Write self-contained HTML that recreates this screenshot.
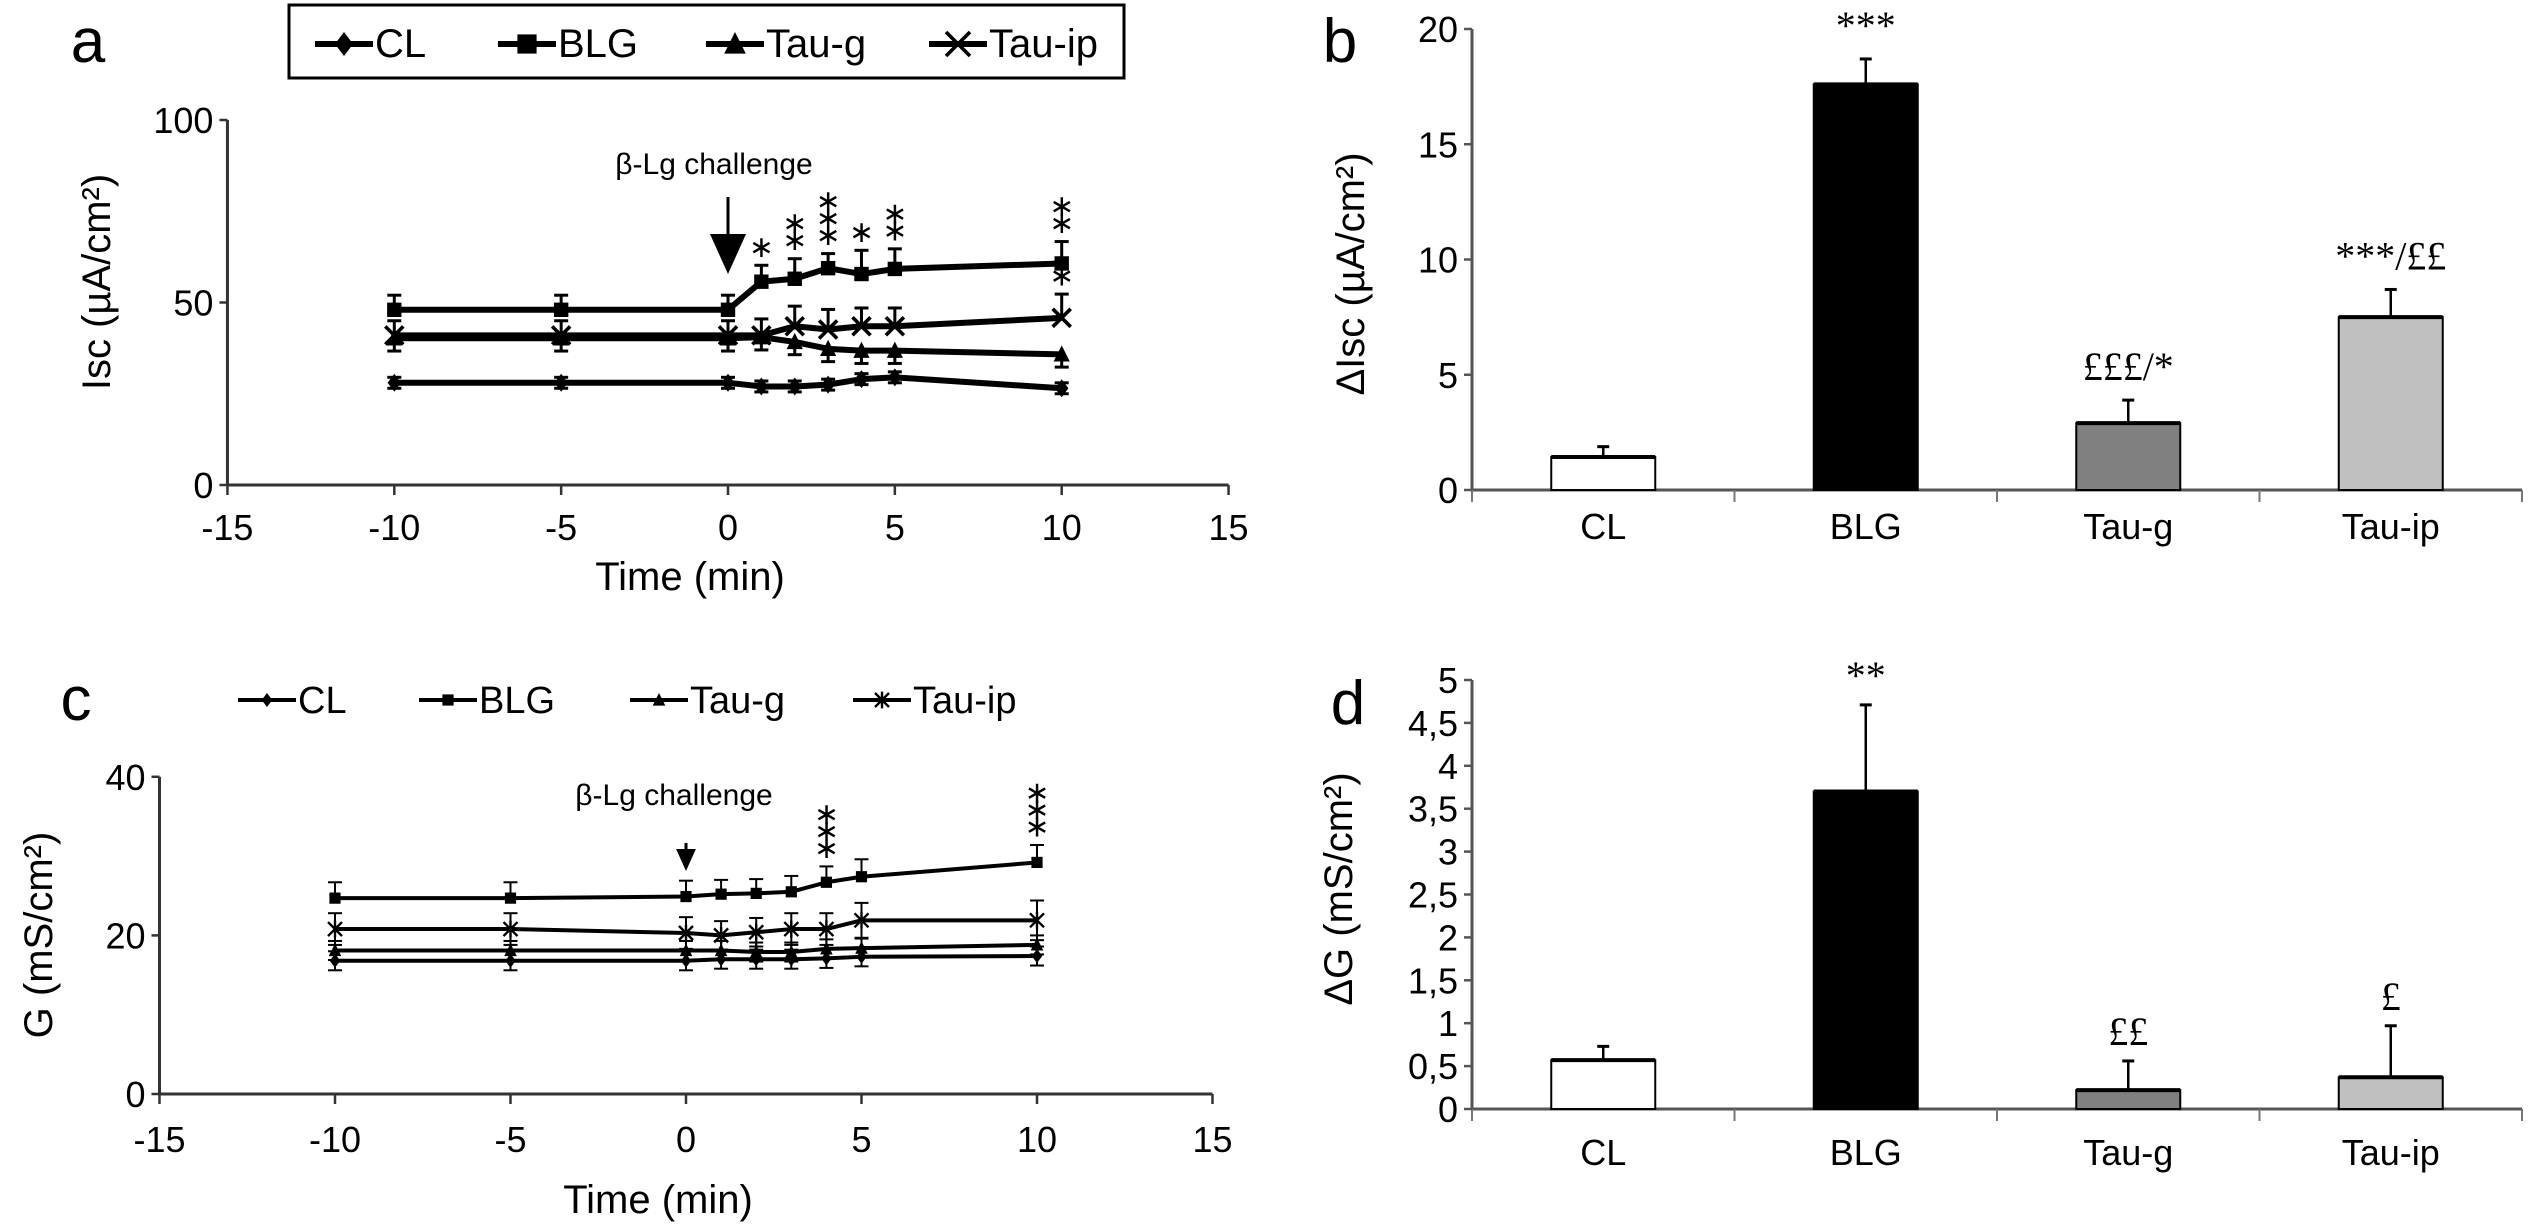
<!DOCTYPE html>
<html><head><meta charset="utf-8"><style>
html,body{margin:0;padding:0;background:#fff;}
svg{display:block;font-family:"Liberation Sans",Arial,sans-serif;}
</style></head><body>
<svg id="fig" width="2529" height="1226" viewBox="0 0 2529 1226"></svg>
<script>
// ---- Panel a data (Isc, µA/cm²) ----
const timePoints = [-10,-5,0,1,2,3,4,5,10];
const aCL    = [28,28,28,27,27,27.5,29,29.5,26.5];
const aBLG   = [48,48,48,55.7,56.5,59.4,57.8,59.2,60.7];
const aTauG  = [40.2,40.2,40.2,40.5,39.2,37.3,36.8,36.8,35.8];
const aTauIP = [41,41,41,41,43.5,42.6,43.5,43.5,45.8];
const aErrCL = [1.5,1.5,1.5,1.5,1.5,1.5,1.5,1.5,1.5];
const aErrBLG = [4,4,4,4.5,5.5,4,6.5,5.5,6];
const aErrTauG = [3.5,3.5,3.5,3.5,3.5,3.5,3.5,3.5,3.5];
const aErrTauIP = [4,4,4,4.5,5.5,5.5,5,5,6.5];
const aStarsBLG = ["","","","*","**","***","*","**","**"];
const aStarsTauIP = ["","","","","","","","","*"];
const aYTicks = [0,50,100];
const xTicks = [-15,-10,-5,0,5,10,15];
// ---- Panel c data (G, mS/cm²) ----
const cCL    = [16.8,16.8,16.8,17,17,17,17.1,17.3,17.4];
const cBLG   = [24.7,24.7,24.9,25.2,25.3,25.5,26.7,27.4,29.2];
const cTauG  = [18.1,18.1,18.1,18.1,17.9,17.9,18.3,18.4,18.8];
const cTauIP = [20.8,20.8,20.3,20,20.4,20.8,20.8,21.9,21.9];
const cErrCL = [1.2,1.2,1.2,1.2,1.2,1.2,1.2,1.2,1.2];
const cErrBLG = [2,2,2,1.8,1.8,2,2,2.2,2.2];
const cErrTauG = [1.2,1.2,1.2,1.2,1.2,1.2,1.2,1.2,1.2];
const cErrTauIP = [2,2,2,1.8,1.8,2,2,2.2,2.5];
const cStarsBLG = ["","","","","","","***","","***"];
const cYTicks = [0,20,40];
// ---- Panel b / d data ----
const groups = ["CL","BLG","Tau-g","Tau-ip"];
const bValues = [1.43,17.6,2.9,7.5];
const bErr = [0.45,1.1,1.0,1.2];
const bAnnot = ["","***","£££/*","***/££"];
const bYTicks = [0,5,10,15,20];
const dValues = [0.57,3.7,0.22,0.37];
const dErr = [0.16,1.01,0.34,0.6];
const dAnnot = ["","**","££","£"];
const dYTicks = [0,0.5,1,1.5,2,2.5,3,3.5,4,4.5,5];
const barFills = ["#ffffff","#000000","#808080","#c0c0c0"];

const NS="http://www.w3.org/2000/svg";
const svg=document.getElementById('fig');
function el(tag,attrs,parent){const e=document.createElementNS(NS,tag);for(const k in attrs)e.setAttribute(k,attrs[k]);(parent||svg).appendChild(e);return e;}
function txt(s,x,y,size,anchor,parent,extra){const t=el('text',Object.assign({x:x,y:y,'font-size':size,'text-anchor':anchor||'middle',fill:'#000'},extra||{}),parent);t.textContent=s;return t;}
function marker(g,kind,x,y,s,sw){
  if(kind==='diamond') return el('polygon',{points:`${x},${y-s} ${x+s*0.75},${y} ${x},${y+s} ${x-s*0.75},${y}`,fill:'#000'},g);
  if(kind==='square') return el('rect',{x:x-s*0.8,y:y-s*0.8,width:s*1.6,height:s*1.6,fill:'#000'},g);
  if(kind==='triangle') return el('polygon',{points:`${x},${y-s} ${x+s*0.9},${y+s*0.8} ${x-s*0.9},${y+s*0.8}`,fill:'#000'},g);
  const p=`M${x-s},${y-s}L${x+s},${y+s}M${x+s},${y-s}L${x-s},${y+s}`+(kind==='star'?`M${x},${y-s*1.2}L${x},${y+s*1.2}`:'');
  return el('path',{d:p,stroke:'#000','stroke-width':sw,fill:'none'},g);
}

function lineChart(cfg){
  const g=el('g',{});
  
  
  const X=v=>cfg.x0+cfg.xs*v, Y=v=>cfg.y0-cfg.ys*v;
  el('line',{x1:X(-15),y1:Y(0),x2:X(15),y2:Y(0),stroke:'#333','stroke-width':3},g);
  el('line',{x1:X(-15),y1:Y(0),x2:X(-15),y2:Y(cfg.yTicks[cfg.yTicks.length-1]),stroke:'#333','stroke-width':3},g);
  xTicks.forEach(t=>{
    el('line',{x1:X(t),y1:Y(0),x2:X(t),y2:Y(0)+10,stroke:'#333','stroke-width':2.5},g);
    const l=txt(String(t),X(t),cfg.xLabY,36,'middle',g);
    
  });
  cfg.yTicks.forEach(t=>{
    el('line',{x1:X(-15)-8,y1:Y(t),x2:X(-15),y2:Y(t),stroke:'#333','stroke-width':2.5},g);
    const l=txt(String(t),X(-15)-14,Y(t)+13,36,'end',g);
    
  });
  cfg.series.forEach(s=>{
    const sg=el('g',{},g);
    
    
    timePoints.forEach((t,i)=>{
      const e=s.err[i];
      if(s.dir!=='down'){el('line',{x1:X(t),y1:Y(s.vals[i]),x2:X(t),y2:Y(s.vals[i]+e),stroke:'#000','stroke-width':cfg.ebw},sg);
        el('line',{x1:X(t)-7,y1:Y(s.vals[i]+e),x2:X(t)+7,y2:Y(s.vals[i]+e),stroke:'#000','stroke-width':cfg.ebw},sg);}
      if(s.dir!=='up'){el('line',{x1:X(t),y1:Y(s.vals[i]),x2:X(t),y2:Y(s.vals[i]-e),stroke:'#000','stroke-width':cfg.ebw},sg);
        el('line',{x1:X(t)-7,y1:Y(s.vals[i]-e),x2:X(t)+7,y2:Y(s.vals[i]-e),stroke:'#000','stroke-width':cfg.ebw},sg);}
    });
    const pts=timePoints.map((t,i)=>X(t)+','+Y(s.vals[i])).join(' ');
    el('polyline',{points:pts,fill:'none',stroke:'#000','stroke-width':cfg.lw,'stroke-linejoin':'round'},sg);
    timePoints.forEach((t,i)=>{const m=marker(sg,s.marker,X(t),Y(s.vals[i]),cfg.ms,cfg.lw*0.6);
      });
    if(s.stars){timePoints.forEach((t,i)=>{const st=s.stars[i];if(!st)return;
      const top=Y(s.vals[i]+s.err[i]);
      for(let k=0;k<st.length;k++){const tt=txt('∗',X(t),top-18-k*17,30,'middle',sg,{'dominant-baseline':'central','font-family':'"DejaVu Sans",sans-serif'});
        }
    });}
  });
  const ax=X(0);
  el('line',{x1:ax,y1:cfg.arrow[0],x2:ax,y2:cfg.arrow[1]-cfg.ah,stroke:'#000','stroke-width':3},g);
  el('polygon',{points:`${ax-cfg.ah*0.45},${cfg.arrow[1]-cfg.ah} ${ax+cfg.ah*0.45},${cfg.arrow[1]-cfg.ah} ${ax},${cfg.arrow[1]}`,fill:'#000'},g);
  txt('β-Lg challenge',cfg.annX,cfg.annY,30,'middle',g);
  txt('Time (min)',cfg.titleX,cfg.titleY,40,'middle',g);
  const yt=txt(cfg.yTitle,0,0,40,'middle',g,{transform:`translate(${cfg.yTitleX},${cfg.yTitleY}) rotate(-90)`});
  
  return g;
}

function barChart(cfg){
  const g=el('g',{});
  
  
  const Y=v=>cfg.y0-cfg.ys*v;
  const left=1472, right=2522, cw=(right-left)/groups.length;
  el('line',{x1:left,y1:Y(0),x2:right,y2:Y(0),stroke:'#555','stroke-width':3},g);
  el('line',{x1:left,y1:Y(0),x2:left,y2:Y(cfg.yTicks[cfg.yTicks.length-1]),stroke:'#555','stroke-width':3},g);
  for(let i=0;i<=groups.length;i++) el('line',{x1:left+i*cw,y1:Y(0),x2:left+i*cw,y2:Y(0)+12,stroke:'#777','stroke-width':2},g);
  cfg.yTicks.forEach(t=>{
    el('line',{x1:left-8,y1:Y(t),x2:left,y2:Y(t),stroke:'#555','stroke-width':2.5},g);
    txt(String(t).replace('.',','),left-14,Y(t)+13,36,'end',g);
  });
  groups.forEach((name,i)=>{
    const cx=left+cw*(i+0.5), v=cfg.vals[i], e=cfg.err[i];
    el('line',{x1:cx,y1:Y(v),x2:cx,y2:Y(v+e),stroke:'#000','stroke-width':2.5},g);
    el('line',{x1:cx-6,y1:Y(v+e),x2:cx+6,y2:Y(v+e),stroke:'#000','stroke-width':3},g);
    const r=el('rect',{x:cx-52,y:Y(v),width:104,height:Y(0)-Y(v),fill:barFills[i],stroke:'#000','stroke-width':2},g);
    
    
    el('line',{x1:cx-52,y1:Y(v),x2:cx+52,y2:Y(v),stroke:'#000','stroke-width':4},g);
    txt(name,cx,cfg.catY,36,'middle',g);
    if(cfg.annot[i]){txt(cfg.annot[i],cx,Y(v+e)-cfg.annGap,40,'middle',g,{'font-family':'"Liberation Serif",serif'});}
  });
  const yt=txt(cfg.yTitle,0,0,40,'middle',g,{transform:`translate(${cfg.yTitleX},${cfg.yTitleY}) rotate(-90)`});
  
}

function legend(items,y,size,lw,ms,parent,name){
  const g=el('g',{},parent);
  
  
  items.forEach(it=>{
    const ig=el('g',{},g);
    
    
    el('line',{x1:it.x,y1:y,x2:it.x+58,y2:y,stroke:'#000','stroke-width':lw},ig);
    marker(ig,it.m,it.x+29,y,ms,lw*0.6);
    txt(it.t,it.x+60,y+13,size,'start',ig);
  });
}

// ---- Panel a ----
txt('a',88,62,62,'middle');
el('rect',{x:289,y:5,width:835,height:73,fill:'#fff',stroke:'#000','stroke-width':3});
legend([{x:315,m:'diamond',t:'CL'},{x:498,m:'square',t:'BLG'},{x:706,m:'triangle',t:'Tau-g'},{x:929,m:'x',t:'Tau-ip'}],44,40,6,12,svg,'legend-a');
lineChart({name:'panel-a-isc',x0:728,xs:33.37,y0:485,ys:3.65,yTicks:aYTicks,xLabY:540,lw:6,ms:9,ebw:3,
  series:[{label:'CL',vals:aCL,err:aErrCL,marker:'diamond',dir:'none'},
          {label:'Tau-g',vals:aTauG,err:aErrTauG,marker:'triangle',dir:'down'},
          {label:'Tau-ip',vals:aTauIP,err:aErrTauIP,marker:'x',dir:'up',stars:aStarsTauIP},
          {label:'BLG',vals:aBLG,err:aErrBLG,marker:'square',dir:'up',stars:aStarsBLG}],
  arrow:[197,274],ah:40,annX:714,annY:174,titleX:690,titleY:590,
  yTitle:'Isc (µA/cm²)',yTitleX:110,yTitleY:282});

// ---- Panel c ----
txt('c',76,720,62,'middle');
legend([{x:238,m:'diamond',t:'CL'},{x:419,m:'square',t:'BLG'},{x:630,m:'triangle',t:'Tau-g'},{x:853,m:'star',t:'Tau-ip'}],700,38,4,7,svg,'legend-c');
lineChart({name:'panel-c-conductance',x0:686,xs:35.1,y0:1094,ys:7.93,yTicks:cYTicks,xLabY:1152,lw:4,ms:7,ebw:2,
  series:[{label:'CL',vals:cCL,err:cErrCL,marker:'diamond',dir:'both'},
          {label:'Tau-g',vals:cTauG,err:cErrTauG,marker:'triangle',dir:'both'},
          {label:'Tau-ip',vals:cTauIP,err:cErrTauIP,marker:'star',dir:'both'},
          {label:'BLG',vals:cBLG,err:cErrBLG,marker:'square',dir:'up',stars:cStarsBLG}],
  arrow:[843,871],ah:22,annX:674,annY:805,titleX:658,titleY:1213,
  yTitle:'G (mS/cm²)',yTitleX:52,yTitleY:935});

// ---- Panel b ----
txt('b',1340,62,62,'middle');
barChart({name:'panel-b-delta-isc',y0:490,ys:23.05,yTicks:bYTicks,vals:bValues,err:bErr,annot:bAnnot,annGap:20,catY:539,
  yTitle:'ΔIsc (µA/cm²)',yTitleX:1364,yTitleY:274});

// ---- Panel d ----
txt('d',1348,724,62,'middle');
barChart({name:'panel-d-delta-g',y0:1109,ys:85.8,yTicks:dYTicks,vals:dValues,err:dErr,annot:dAnnot,annGap:16,catY:1165,
  yTitle:'ΔG (mS/cm²)',yTitleX:1352,yTitleY:889});
</script>
</body></html>
